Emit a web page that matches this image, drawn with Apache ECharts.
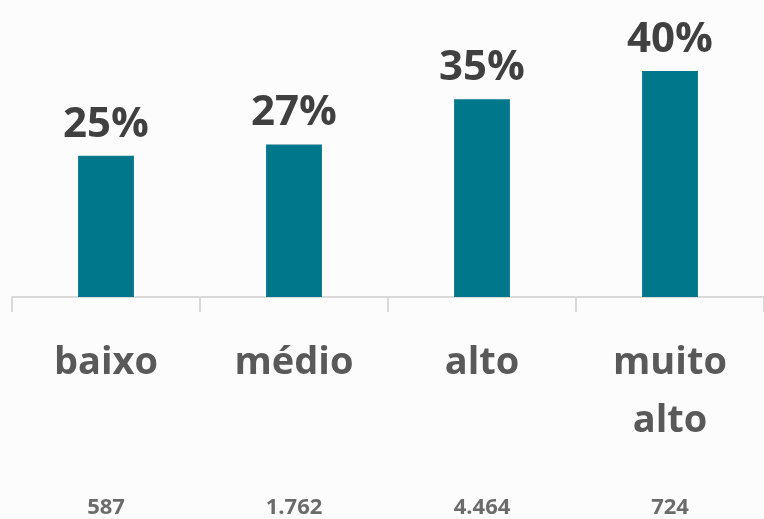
<!DOCTYPE html>
<html>
<head>
<meta charset="utf-8">
<script src="https://cdn.jsdelivr.net/npm/echarts@6/dist/echarts.min.js"></script>
<style>
  html, body { margin: 0; padding: 0; background: #fcfcfc; }
  #chart { width: 764px; height: 519px; }
</style>
</head>
<body>
<div id="chart"></div>
<script>
// Income bands, share per band and the number of respondents in each band
const categories = ['baixo', 'médio', 'alto', 'muito\nalto'];
const shares = [25, 27, 35, 40];
const counts = ['587', '1.762', '4.464', '724'];

const chart = echarts.init(document.getElementById('chart'));

chart.setOption({
  backgroundColor: '#fcfcfc',
  animation: false,
  grid: { left: 12, right: 0, top: 14.5, bottom: 222, containLabel: false },
  xAxis: [
    {
      type: 'category',
      data: categories,
      axisLine: { lineStyle: { color: '#d9d9d9', width: 2 } },
      axisTick: { show: true, length: 15, lineStyle: { color: '#d9d9d9', width: 2 } },
      axisLabel: {
        margin: 37,
        color: '#595959',
        fontFamily: 'Open Sans',
        fontWeight: 'bold',
        fontSize: 38,
        lineHeight: 58,
        interval: 0
      }
    },
    {
      type: 'category',
      data: counts,
      position: 'bottom',
      axisLine: { show: false },
      axisTick: { show: false },
      axisLabel: {
        margin: 200,
        color: '#6b6b6b',
        fontFamily: 'Open Sans',
        fontWeight: 'bold',
        fontSize: 22,
        interval: 0
      }
    }
  ],
  yAxis: {
    type: 'value',
    min: 0,
    max: 50,
    show: false,
    splitLine: { show: false }
  },
  series: [
    {
      type: 'bar',
      xAxisIndex: 0,
      data: shares,
      barWidth: '29.7%',
      itemStyle: { color: '#00778b' },
      label: {
        show: true,
        position: 'top',
        distance: 10,
        formatter: p => p.value + '%',
        color: '#404040',
        fontFamily: 'Open Sans',
        fontWeight: 'bold',
        fontSize: 42
      }
    }
  ]
});
</script>
</body>
</html>
